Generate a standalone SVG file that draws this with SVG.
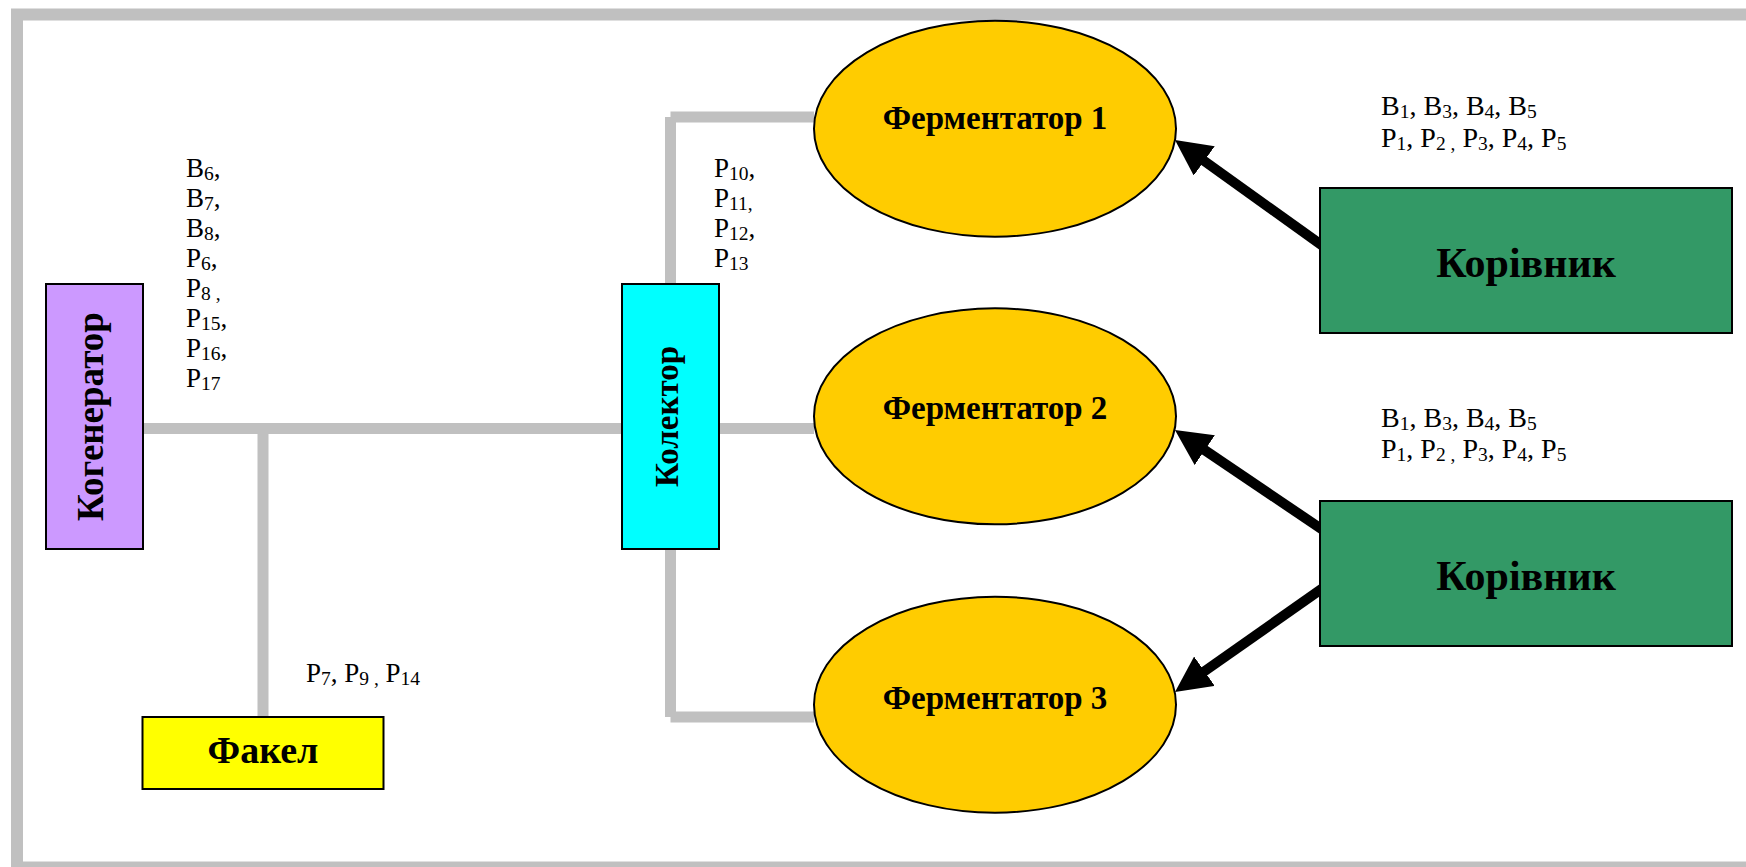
<svg xmlns="http://www.w3.org/2000/svg" width="1746" height="867" viewBox="0 0 1746 867">
  <style>
    .frame { fill: none; stroke: #C0C0C0; stroke-width: 12; }
    .pipe { fill: none; stroke: #C0C0C0; stroke-width: 11; stroke-linecap: butt; }
    .feed { fill: none; stroke: #000; stroke-width: 10; marker-end: url(#head); }
    .box { stroke: #000; stroke-width: 2; }
    .tank { fill: #FFCC00; stroke: #000; stroke-width: 2; }
    .name { font-family: "Liberation Serif", "Times New Roman", serif; font-weight: bold; fill: #000; text-anchor: middle; }
    .lbl { font-family: "Liberation Serif", "Times New Roman", serif; font-size: 27px; fill: #000; }
    .lbl2 { font-family: "Liberation Serif", "Times New Roman", serif; font-size: 28px; fill: #000; }
    .s { font-size: 19.5px; }
  </style>
  <defs>
    <marker id="head" markerUnits="userSpaceOnUse" viewBox="0 0 36 36" markerWidth="36" markerHeight="36" refX="3" refY="18" orient="auto">
      <path d="M0,0 L36,18 L0,36 z" fill="#000"/>
    </marker>
  </defs>

  <rect width="1746" height="867" fill="#FFFFFF"/>
  <rect class="frame" x="17" y="14.5" width="1800" height="853"/>

  <g id="connectors">
    <!-- gas pipes -->
    <path class="pipe" d="M143,428.5 H622"/>
    <path class="pipe" d="M263,428.5 V717"/>
    <path class="pipe" d="M719,428.5 H814"/>
    <path class="pipe" d="M670.5,284 V117"/>
    <path class="pipe" d="M670.5,117 H814"/>
    <path class="pipe" d="M670.5,549 V717"/>
    <path class="pipe" d="M670.5,717 H814"/>
    <!-- manure feed -->
    <path class="feed" d="M1322,245.4 L1201.8,159.2"/>
    <path class="feed" d="M1322,529.4 L1202.3,448.5"/>
    <path class="feed" d="M1322,588.6 L1202,673"/>
  </g>

  <g id="kogenerator">
    <rect class="box" x="46" y="284" width="97" height="265" fill="#CC99FF"/>
    <text class="name" font-size="37" transform="translate(103,416.5) rotate(-90)">Когенератор</text>
  </g>

  <g id="fakel">
    <rect class="box" x="142.5" y="717" width="241" height="72" fill="#FFFF00"/>
    <text class="name" font-size="38" x="263" y="763">Факел</text>
  </g>

  <g id="kolektor">
    <rect class="box" x="622" y="284" width="97" height="265" fill="#00FFFF"/>
    <text class="name" font-size="33" transform="translate(678,416.5) rotate(-90)">Колектор</text>
  </g>

  <g id="fermentator1">
    <ellipse class="tank" cx="995" cy="128.7" rx="181" ry="108"/>
    <text class="name" font-size="33" x="995" y="129">Ферментатор 1</text>
  </g>
  <g id="fermentator2">
    <ellipse class="tank" cx="995" cy="416.3" rx="181" ry="108"/>
    <text class="name" font-size="33" x="995" y="419">Ферментатор 2</text>
  </g>
  <g id="fermentator3">
    <ellipse class="tank" cx="995" cy="704.7" rx="181" ry="108"/>
    <text class="name" font-size="33" x="995" y="709">Ферментатор 3</text>
  </g>

  <g id="korivnyk1">
    <rect class="box" x="1320" y="188" width="412" height="145" fill="#339966"/>
    <text class="name" font-size="42" x="1526" y="277">Корівник</text>
  </g>
  <g id="korivnyk2">
    <rect class="box" x="1320" y="501" width="412" height="145" fill="#339966"/>
    <text class="name" font-size="42" x="1526" y="590">Корівник</text>
  </g>

  <g id="labels">
    <text class="lbl" x="186" y="177">B<tspan class="s" dy="3">6</tspan><tspan dy="-3">,</tspan></text>
    <text class="lbl" x="186" y="207">B<tspan class="s" dy="3">7</tspan><tspan dy="-3">,</tspan></text>
    <text class="lbl" x="186" y="237">B<tspan class="s" dy="3">8</tspan><tspan dy="-3">,</tspan></text>
    <text class="lbl" x="186" y="267">P<tspan class="s" dy="3">6</tspan><tspan dy="-3">,</tspan></text>
    <text class="lbl" x="186" y="297">P<tspan class="s" dy="3">8 ,</tspan></text>
    <text class="lbl" x="186" y="327">P<tspan class="s" dy="3">15</tspan><tspan dy="-3">,</tspan></text>
    <text class="lbl" x="186" y="357">P<tspan class="s" dy="3">16</tspan><tspan dy="-3">,</tspan></text>
    <text class="lbl" x="186" y="387">P<tspan class="s" dy="3">17</tspan></text>

    <text class="lbl" x="714" y="177">P<tspan class="s" dy="3">10</tspan><tspan dy="-3">,</tspan></text>
    <text class="lbl" x="714" y="207">P<tspan class="s" dy="3">11,</tspan></text>
    <text class="lbl" x="714" y="237">P<tspan class="s" dy="3">12</tspan><tspan dy="-3">,</tspan></text>
    <text class="lbl" x="714" y="267">P<tspan class="s" dy="3">13</tspan></text>

    <text class="lbl" x="306" y="682">P<tspan class="s" dy="3">7</tspan><tspan dy="-3">, P</tspan><tspan class="s" dy="3">9 ,</tspan><tspan dy="-3"> P</tspan><tspan class="s" dy="3">14</tspan></text>

    <text class="lbl2" x="1381" y="115">B<tspan class="s" dy="3">1</tspan><tspan dy="-3">, B</tspan><tspan class="s" dy="3">3</tspan><tspan dy="-3">, B</tspan><tspan class="s" dy="3">4</tspan><tspan dy="-3">, B</tspan><tspan class="s" dy="3">5</tspan></text>
    <text class="lbl2" x="1381" y="147">P<tspan class="s" dy="3">1</tspan><tspan dy="-3">, P</tspan><tspan class="s" dy="3">2 ,</tspan><tspan dy="-3"> P</tspan><tspan class="s" dy="3">3</tspan><tspan dy="-3">, P</tspan><tspan class="s" dy="3">4</tspan><tspan dy="-3">, P</tspan><tspan class="s" dy="3">5</tspan></text>

    <text class="lbl2" x="1381" y="427">B<tspan class="s" dy="3">1</tspan><tspan dy="-3">, B</tspan><tspan class="s" dy="3">3</tspan><tspan dy="-3">, B</tspan><tspan class="s" dy="3">4</tspan><tspan dy="-3">, B</tspan><tspan class="s" dy="3">5</tspan></text>
    <text class="lbl2" x="1381" y="458">P<tspan class="s" dy="3">1</tspan><tspan dy="-3">, P</tspan><tspan class="s" dy="3">2 ,</tspan><tspan dy="-3"> P</tspan><tspan class="s" dy="3">3</tspan><tspan dy="-3">, P</tspan><tspan class="s" dy="3">4</tspan><tspan dy="-3">, P</tspan><tspan class="s" dy="3">5</tspan></text>
  </g>
</svg>
